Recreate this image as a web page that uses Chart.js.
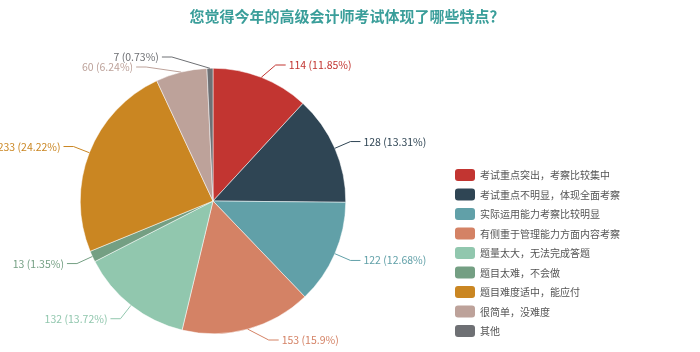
<!DOCTYPE html>
<html>
<head>
<meta charset="utf-8">
<script src="https://cdn.jsdelivr.net/npm/chart.js@4"></script>
<style>
  body { margin: 0; background: #fff; }
  #wrap { width: 700px; height: 352px; position: relative; }
</style>
</head>
<body>
<div id="wrap"><canvas id="chart"></canvas></div>
<script>
const title = "您觉得今年的高级会计师考试体现了哪些特点？";
const categories = [
  "考试重点突出，考察比较集中",
  "考试重点不明显，体现全面考察",
  "实际运用能力考察比较明显",
  "有侧重于管理能力方面内容考察",
  "题量太大，无法完成答题",
  "题目太难，不会做",
  "题目难度适中，能应付",
  "很简单，没难度",
  "其他"
];
const counts = [114, 128, 122, 153, 132, 13, 233, 60, 7];
const colors = ["#c23531", "#2f4554", "#61a0a8", "#d48265", "#91c7ae", "#749f83", "#ca8622", "#bda29a", "#6e7074"];

const total = counts.reduce((a, b) => a + b, 0);
function pct(v) {
  return +(v / total * 100).toFixed(2) + "%";
}

// title + legend drawn by hand
const decor = {
  id: "decor",
  afterDraw(chart) {
    const ctx = chart.ctx;
    ctx.save();
    ctx.fillStyle = "#3a9e9a";
    ctx.font = "bold 15px 'Noto Sans CJK SC', sans-serif";
    ctx.textAlign = "center";
    ctx.textBaseline = "middle";
    ctx.fillText(title, 347, 16);

    ctx.font = "10px 'Noto Sans CJK SC', sans-serif";
    ctx.textAlign = "left";
    categories.forEach((c, i) => {
      const y = 175 + i * 19.5;
      ctx.fillStyle = colors[i];
      ctx.beginPath();
      ctx.roundRect(455, y - 6, 20, 12, 3);
      ctx.fill();
      ctx.fillStyle = "#555";
      ctx.fillText(c, 480, y + 0.5);
    });
    ctx.restore();
  }
};

// outside labels with leader lines
const outLabels = {
  id: "outLabels",
  afterDatasetsDraw(chart) {
    const ctx = chart.ctx;
    const arcs = chart.getDatasetMeta(0).data;
    const items = arcs.map((arc, i) => {
      const mid = (arc.startAngle + arc.endAngle) / 2;
      const R = arc.outerRadius + 17;
      return {
        i, arc, mid, R,
        right: Math.cos(mid) >= 0,
        y: arc.y + Math.sin(mid) * R
      };
    });
    [true, false].forEach(side => {
      const top = side ? 65 : 57;
      const list = items.filter(it => it.right === side).sort((a, b) => a.y - b.y);
      list.forEach((it, k) => {
        it.y = Math.min(Math.max(it.y, top), 340);
        if (k > 0 && it.y < list[k - 1].y + 10) it.y = list[k - 1].y + 10;
      });
    });
    ctx.save();
    ctx.font = "10.5px 'Noto Sans CJK SC', sans-serif";
    ctx.textBaseline = "middle";
    ctx.lineWidth = 1;
    items.forEach(it => {
      const a = it.arc;
      const dy = it.y - a.y;
      const dx = Math.sqrt(Math.max(it.R * it.R - dy * dy, 0));
      const ex = a.x + (it.right ? dx : -dx);
      const sx = a.x + Math.cos(it.mid) * a.outerRadius;
      const sy = a.y + Math.sin(it.mid) * a.outerRadius;
      const hx = ex + (it.right ? 10 : -10);
      ctx.strokeStyle = colors[it.i];
      ctx.beginPath();
      ctx.moveTo(sx, sy);
      ctx.lineTo(ex, it.y);
      ctx.lineTo(hx, it.y);
      ctx.stroke();
      ctx.fillStyle = colors[it.i];
      ctx.textAlign = it.right ? "left" : "right";
      ctx.fillText(counts[it.i] + " (" + pct(counts[it.i]) + ")", hx + (it.right ? 3 : -3), it.y);
    });
    ctx.restore();
  }
};

const myChart = new Chart("chart", {
  type: "pie",
  data: {
    labels: categories,
    datasets: [{
      data: counts,
      backgroundColor: colors,
      borderColor: "#fff",
      borderWidth: 0.5,
      hoverOffset: 0
    }]
  },
  options: {
    responsive: true,
    maintainAspectRatio: false,
    animation: false,
    layout: { padding: { left: 80, top: 68, right: 354, bottom: 18 } },
    plugins: {
      legend: { display: false },
      tooltip: { enabled: false }
    }
  },
  plugins: [outLabels, decor]
});
</script>
</body>
</html>
